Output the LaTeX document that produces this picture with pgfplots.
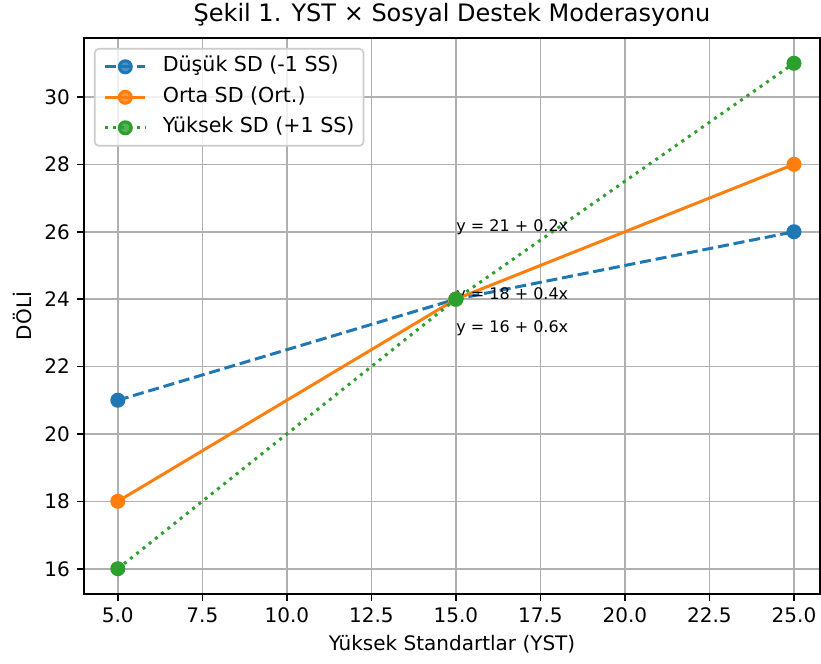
\documentclass[border=0pt]{standalone}
\usepackage{fontspec}
\setmainfont{DejaVu Sans}
\usepackage{pgfplots}
\pgfplotsset{compat=1.18}
\usetikzlibrary{calc}
\definecolor{tabblue}{HTML}{1F77B4}
\definecolor{taborange}{HTML}{FF7F0E}
\definecolor{tabgreen}{HTML}{2CA02C}
\definecolor{gridgray}{HTML}{B0B0B0}
\definecolor{legedge}{HTML}{CCCCCC}
\begin{document}
\begin{tikzpicture}
\begin{axis}[
  name=ax,
  scale only axis,
  width=368pt, height=278pt,
  xmin=4, xmax=25.77, ymin=15.25, ymax=31.75,
  xtick={5,7.5,10,12.5,15,17.5,20,22.5,25},
  ytick={16,18,20,22,24,26,28,30},
  x tick label style={/pgf/number format/.cd, fixed, fixed zerofill, precision=1, /tikz/.cd},
  /pgf/number format/assume math mode=true,
  tick label style={font=\fontsize{10}{12}\selectfont},
  xtick pos=lower, ytick pos=left,
  tick align=outside, major tick length=3.5pt,
  tick style={black, line width=0.8pt},
  axis line style={line width=0.8pt},
  grid=major,
  major grid style={color=gridgray, line width=0.8pt},
  title={Şekil 1. YST × Sosyal Destek Moderasyonu},
  every axis title shift=0pt,
  title style={at={(axis description cs:0.5,1)}, anchor=base, yshift=8pt, inner sep=0pt, font=\fontsize{12}{14}\selectfont},
  xlabel={Yüksek Standartlar (YST)},
  xlabel style={at={(axis description cs:0.5,0)}, anchor=base, yshift=-28.5pt, inner sep=0pt, font=\fontsize{10}{12}\selectfont},
  ylabel={DÖLİ},
  ylabel style={at={(axis description cs:-0.072,0.5)}, rotate=0, anchor=base, inner sep=0pt, font=\fontsize{10}{12}\selectfont},
  legend cell align=left,
  legend image code/.code={\draw[mark repeat=2, mark phase=2] plot coordinates {(0pt,0pt) (10pt,0pt) (20pt,0pt)};},
  legend style={
    at={(axis description cs:0,1)}, anchor=north west, xshift=5pt, yshift=-5pt,
    draw=legedge, line width=0.8pt, fill=white, fill opacity=0.8, text opacity=1,
    rounded corners=2pt, inner xsep=4.5pt, inner ysep=4pt,
    font=\fontsize{10.3}{12}\selectfont,
    row sep=5.25pt,
    nodes={inner sep=0pt, text height=7.5pt, text depth=2.5pt},
    /tikz/every odd column/.append style={column sep=8pt},
  },
]
\addplot[color=tabblue, line width=1.5pt, dash pattern=on 5.55pt off 2.4pt, mark=*, mark size=3pt, mark options={solid, fill=tabblue, draw=tabblue}]
  coordinates {(5,21) (15,24) (25,26)};
\addlegendentry{Düşük SD (-1 SS)}
\addplot[color=taborange, line width=1.5pt, mark=*, mark size=3pt, mark options={solid, fill=taborange, draw=taborange}]
  coordinates {(5,18) (15,24) (25,28)};
\addlegendentry{Orta SD (Ort.)}
\addplot[color=tabgreen, line width=1.5pt, dash pattern=on 1.5pt off 2.475pt, mark=*, mark size=3pt, mark options={solid, fill=tabgreen, draw=tabgreen}]
  coordinates {(5,16) (15,24) (25,31)};
\addlegendentry{Yüksek SD (+1 SS)}
\node[anchor=base west, inner sep=0pt, font=\fontsize{8}{10}\selectfont] at (axis cs:15,26) {y = 21 + 0.2x};
\node[anchor=base west, inner sep=0pt, font=\fontsize{8}{10}\selectfont] at (axis cs:15,24) {y = 18 + 0.4x};
\node[anchor=base west, inner sep=0pt, font=\fontsize{8}{10}\selectfont] at (axis cs:15,23) {y = 16 + 0.6x};
\end{axis}
\pgfresetboundingbox
\path[use as bounding box] ($(ax.south west)+(-42pt,-35pt)$) rectangle ($(ax.north east)+(0.5pt,19pt)$);
\end{tikzpicture}
\end{document}
